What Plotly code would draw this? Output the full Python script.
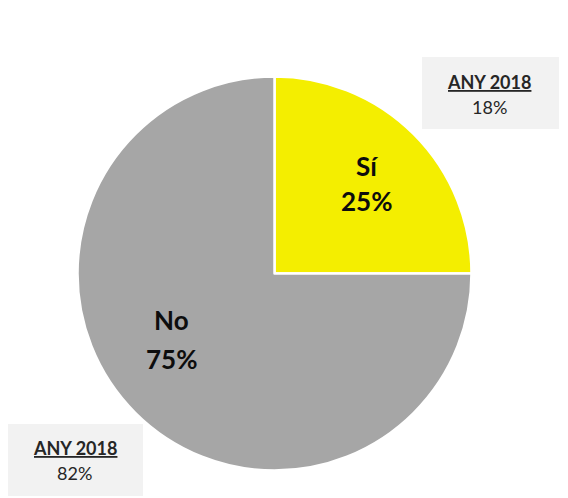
import plotly.graph_objects as go

labels = ["Sí", "No"]
values = [25, 75]
colors = ["#F4EE00", "#A6A6A6"]
prev_year_label = "ANY 2018"
prev_year_values = ["18%", "82%"]

W, H = 568, 498
OFF = 8  # page offset of the rendered figure


def px(x):
    return (x - OFF) / W


def py(y):
    return (H - (y - OFF)) / H


FONT = "Lato, Open Sans, sans-serif"

fig = go.Figure()
fig.add_trace(go.Pie(
    labels=labels, values=values, sort=False, direction="clockwise", rotation=0,
    marker=dict(colors=colors, line=dict(color="white", width=2.5)),
    textinfo="none",
    domain=dict(x=[px(77.5), px(471.5)], y=[py(471), py(76)]),
    showlegend=False, hoverinfo="label+percent",
))

total = sum(values)
# slice labels (label + percent), placed inside each slice
label_pos = [(366.5, 166, 201), (171, 320, 359)]
for lab, v, (xc, y1, y2) in zip(labels, values, label_pos):
    pct = f"{round(100 * v / total)}%"
    for txt, yy in [(lab, y1), (pct, y2)]:
        fig.add_annotation(
            xref="paper", yref="paper", x=px(xc), y=py(yy),
            xanchor="center", yanchor="middle", showarrow=False,
            text=f"<b>{txt}</b>",
            font=dict(family=FONT, size=26, color="#0D0D0D"),
        )

# previous-year boxes
boxes = [
    (422, 559, 57, 129, 489, 81.7, 107, prev_year_values[0]),
    (6, 143, 424, 496, 74.5, 447.5, 472.5, prev_year_values[1]),
]
for x0, x1, y0, y1, xc, ya, yb, val in boxes:
    fig.add_shape(type="rect", xref="paper", yref="paper",
                  x0=px(x0), x1=px(x1), y0=py(y1), y1=py(y0),
                  fillcolor="#F2F2F2", line=dict(width=0))
    fig.add_annotation(
        xref="paper", yref="paper", x=px(xc), y=py(ya),
        xanchor="center", yanchor="middle", showarrow=False,
        text=f"<b><u>{prev_year_label}</u></b>",
        font=dict(family=FONT, size=18, color="#262626"),
    )
    fig.add_annotation(
        xref="paper", yref="paper", x=px(xc), y=py(yb),
        xanchor="center", yanchor="middle", showarrow=False,
        text=val,
        font=dict(family=FONT, size=18, color="#262626"),
    )

fig.update_layout(
    width=W, height=H, margin=dict(l=0, r=0, t=0, b=0),
    paper_bgcolor="white", plot_bgcolor="white",
)
fig.write_html("out.html")
